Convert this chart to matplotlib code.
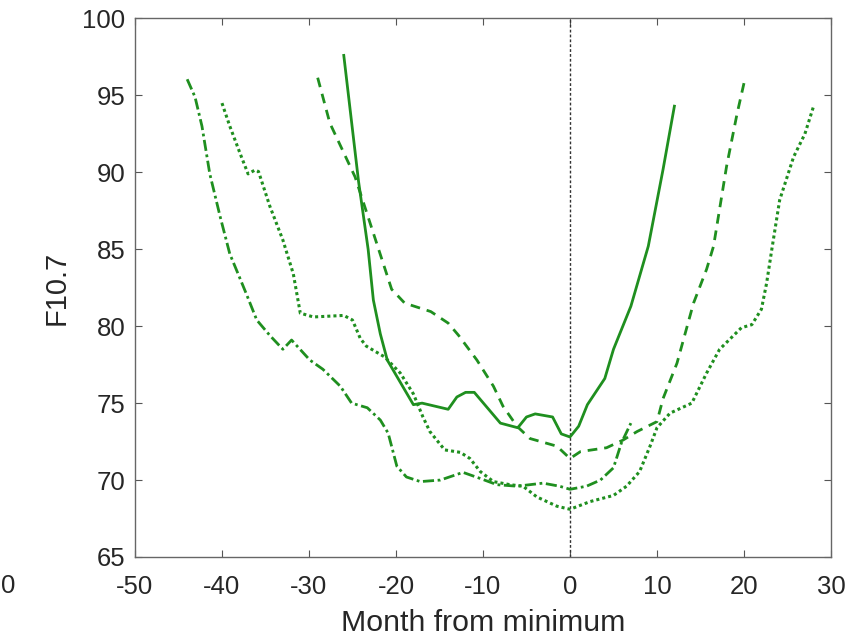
import matplotlib
matplotlib.use("Agg")
import matplotlib.pyplot as plt

# F10.7 around solar minimum, four cycles (months from minimum)
solid_x = [-26, -24.3, -23.2, -22.6, -21.8, -21, -18, -17, -14, -13, -12, -11, -8, -6, -5,
           -4, -2, -1, 0, 1, 2, 4, 5, 7, 9, 10.7, 12]
solid_y = [97.6, 89.4, 85.0, 81.7, 79.5, 77.8, 74.9, 75.0, 74.6, 75.4, 75.7, 75.7, 73.7, 73.4, 74.1,
           74.3, 74.1, 73.0, 72.8, 73.5, 74.9, 76.6, 78.5, 81.3, 85.2, 90.2, 94.3]

dashed_x = [-29, -27.6, -24.7, -20.5, -19, -16, -14, -12.8, -10.7, -8.8, -7.7, -6.1, -4.6, -1.5,
            0, 1.2, 4.2, 6.1, 7.7, 10, 10.7, 12.3, 14.2, 15.7, 16.5, 18, 19.2, 20]
dashed_y = [96.15, 93.2, 89.7, 82.4, 81.5, 80.95, 80.2, 79.4, 77.8, 76.1, 74.8, 73.5, 72.7, 72.2,
            71.4, 71.85, 72.1, 72.6, 73.15, 73.8, 75.3, 77.6, 81.5, 83.7, 85.2, 90.4, 93.8, 95.8]

dotted_x = [-40, -39.1, -37.9, -37, -36.2, -35.8, -34.5, -33, -31.8, -31, -29.5, -26, -25, -24.1,
            -23.4, -21.3, -19.5, -18, -16.9, -16.1, -14.4, -12.6, -11.5, -10.3, -8.8, -6.9, -5.4,
            -3.8, -1.5, 0, 2.3, 5, 6.5, 8, 9.2, 10, 11.5, 14, 15.7, 17.2, 19.7, 20.9, 22, 22.6,
            23.2, 24.1, 25.7, 27, 28]
dotted_y = [94.5, 93.0, 91.2, 89.9, 90.15, 90.05, 87.8, 85.6, 83.4, 80.85, 80.6, 80.7, 80.4, 79.2,
            78.7, 78.0, 76.95, 75.6, 74.1, 73.15, 71.96, 71.8, 71.4, 70.55, 69.9, 69.7, 69.6,
            68.9, 68.3, 68.1, 68.6, 69.0, 69.6, 70.55, 72.2, 73.4, 74.35, 75.0, 76.95, 78.5, 79.9,
            80.1, 81.1, 82.8, 85.0, 88.2, 91.0, 92.5, 94.3]

dashdot_x = [-44, -43.1, -42.3, -41.4, -40.2, -39.1, -38, -37.2, -36, -34.5, -33, -32, -29.9,
             -28.4, -26.4, -25.1, -23.3, -21.8, -20.9, -19.9, -18.8, -17.2, -14.9, -12.3, -10.3,
             -8.4, -6.1, -3.1, -1.2, 0, 1.9, 3.5, 5, 5.9, 7]
dashdot_y = [96.05, 94.9, 93.0, 89.9, 87.1, 84.7, 83.2, 82.1, 80.4, 79.4, 78.5, 79.1, 77.8,
             77.2, 76.1, 75.0, 74.7, 73.9, 73.05, 70.9, 70.2, 69.9, 70.0, 70.5, 70.1,
             69.7, 69.6, 69.8, 69.6, 69.4, 69.6, 70.0, 70.8, 72.4, 73.7]

xticks = [-50, -40, -30, -20, -10, 0, 10, 20, 30]
yticks = [65, 70, 75, 80, 85, 90, 95, 100]

green = '#1f8f1f'
txt = '#262626'
plt.rcParams['font.family'] = ['Liberation Sans', 'DejaVu Sans']
plt.rcParams['axes.unicode_minus'] = False

fig = plt.figure(figsize=(8.51, 6.37), dpi=100)
ax = fig.add_axes([0.1586, 0.1256, 0.8179, 0.8454])

ax.axvline(0, color='#333333', lw=1, linestyle=(0, (2, 1.5)))

ax.plot(solid_x, solid_y, color=green, lw=2, linestyle='-')
ax.plot(dashed_x, dashed_y, color=green, lw=2, linestyle=(0, (3.5, 2.5)))
ax.plot(dotted_x, dotted_y, color=green, lw=2.2, linestyle=(0, (1, 1)))
ax.plot(dashdot_x, dashdot_y, color=green, lw=2, linestyle=(0, (4, 1.3, 1, 1.3)))

ax.set_xlim(-50, 30)
ax.set_ylim(65, 100)
ax.set_xticks(xticks)
ax.set_yticks(yticks)
ax.tick_params(direction='in', top=True, right=True, length=5, width=0.8,
               color='#555555', labelsize=18.5, labelcolor=txt)
ax.tick_params(axis='x', pad=13)
ax.tick_params(axis='y', pad=7)
for s in ax.spines.values():
    s.set_color('#666666')
    s.set_linewidth(1)

ax.set_xlabel('Month from minimum', fontsize=21.8, color=txt, labelpad=7)
ax.set_ylabel('F10.7', fontsize=21, color=txt, labelpad=8)

# tick label from a neighbouring panel at the left edge
fig.text(1 / 851, 1 - 586 / 637, '0', fontsize=18.5, color=txt, ha='left', va='center')

fig.savefig('out.png', dpi=100)
